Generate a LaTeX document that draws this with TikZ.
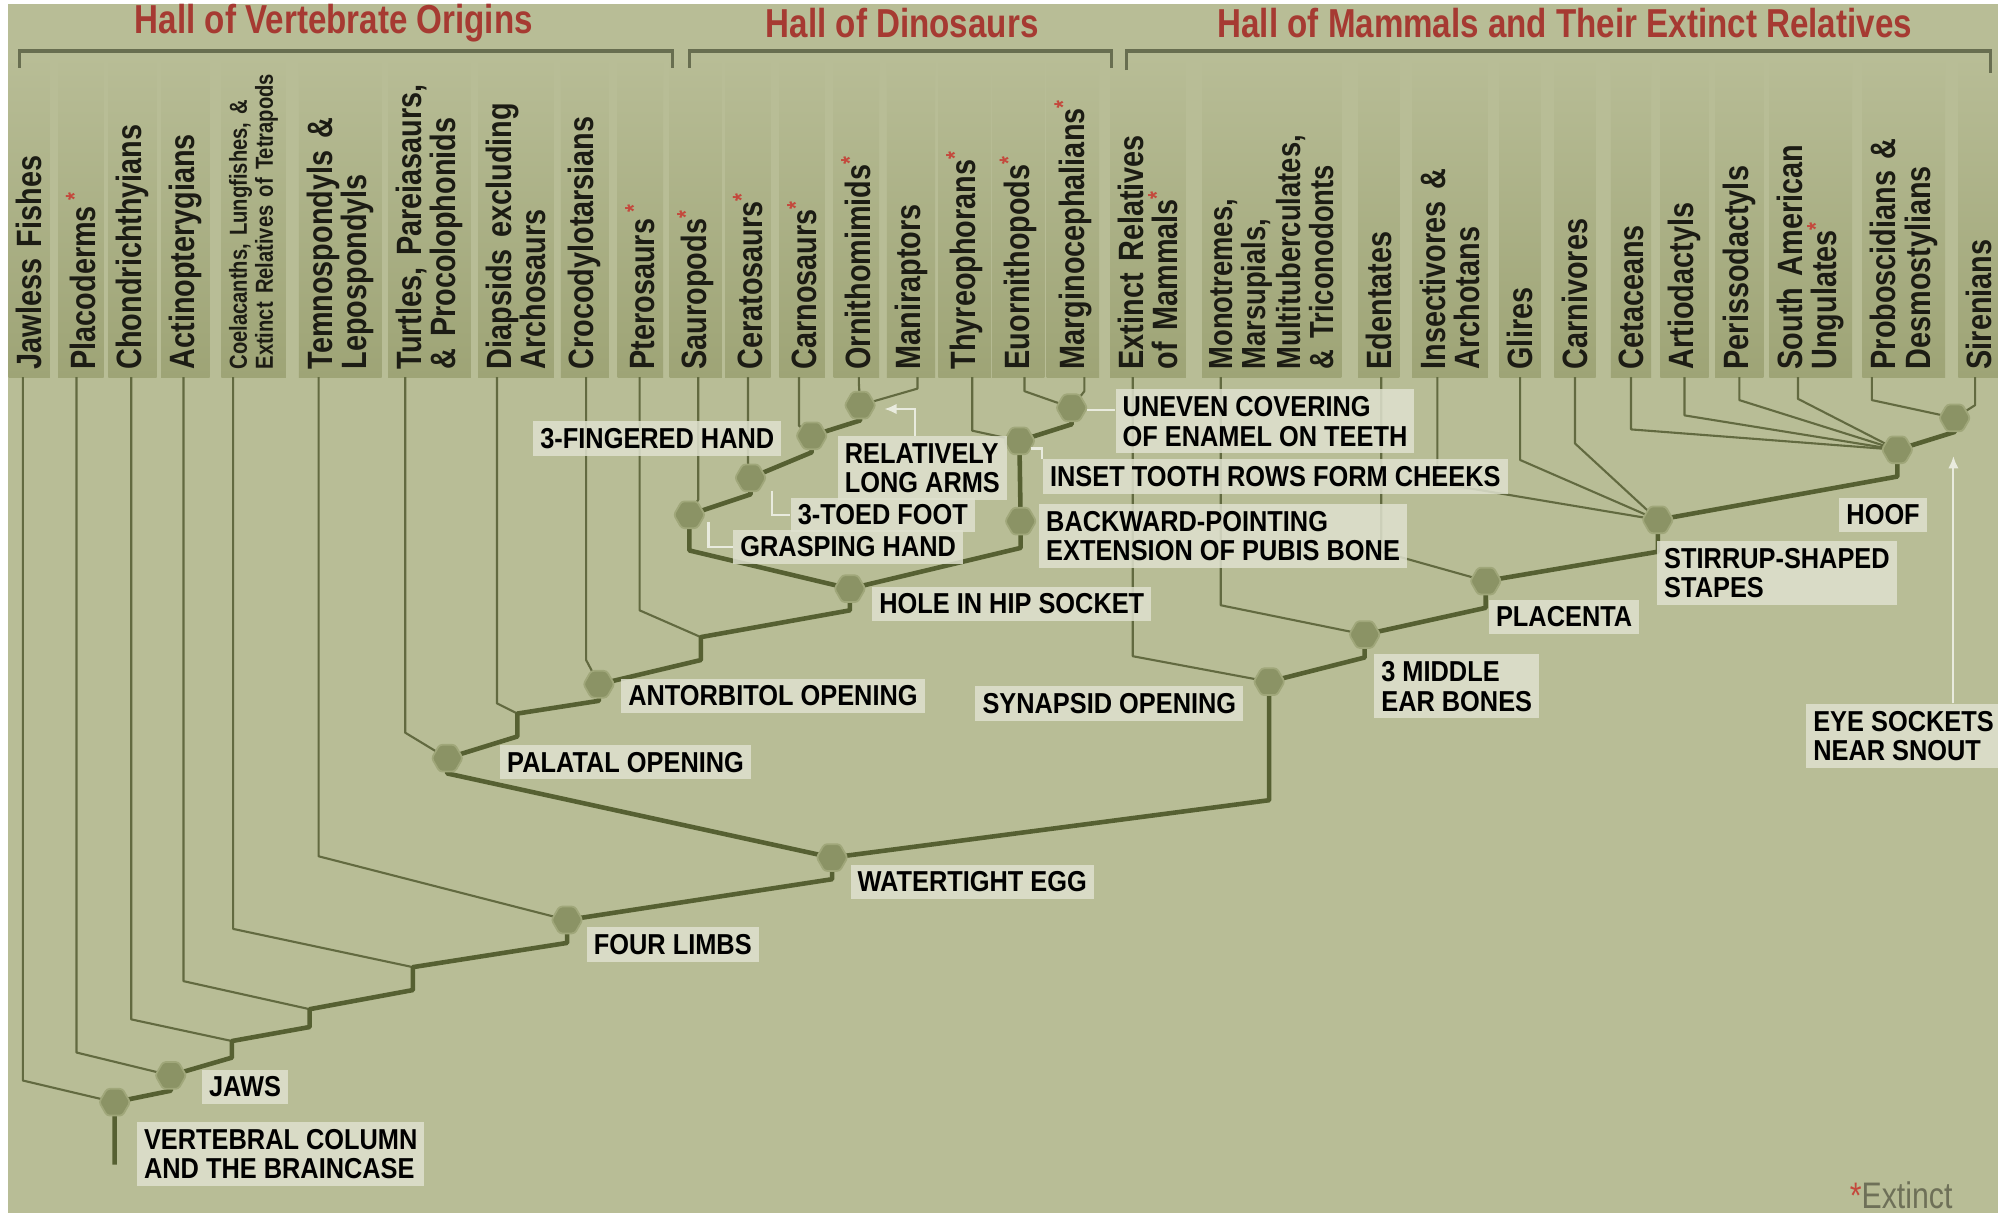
\documentclass[tikz,border=0pt]{standalone}
\usepackage{fontspec}
\newfontfamily\hdfont[FakeStretch=0.82]{Liberation Sans}
\newfontfamily\lbfont[FakeStretch=0.88]{Liberation Sans}
\usetikzlibrary{shapes.geometric,arrows.meta}
\pgfdeclarelayer{back}
\pgfdeclarelayer{strips}
\pgfsetlayers{back,strips,main}
\definecolor{bgc}{RGB}{184,189,150}
\definecolor{stripc}{RGB}{158,164,118}
\definecolor{hdtext}{RGB}{28,28,20}
\definecolor{trunkc}{RGB}{86,96,50}
\definecolor{twigc}{RGB}{98,106,64}
\definecolor{brkc}{RGB}{104,110,80}
\definecolor{lblc}{RGB}{223,225,207}
\definecolor{hallred}{RGB}{166,58,50}
\definecolor{extred}{RGB}{196,72,60}
\definecolor{hexfill}{RGB}{139,147,101}
\definecolor{hexline}{RGB}{160,167,122}
\definecolor{leadc}{RGB}{233,235,222}
\definecolor{notec}{RGB}{110,112,88}
\newcommand{\xtn}{\textsuperscript{\textcolor{extred}{*}}}

\begin{document}
\begin{tikzpicture}[x=0.01274cm, y=-0.01274cm,
    hdr/.style={rotate=90, anchor=west, align=left, text width=87pt,
        inner xsep=2pt, inner ysep=2pt, text=hdtext,
        font=\hdfont\bfseries\fontsize{10}{9.8}\selectfont},
    hn/.style={},
    hs/.style={font=\hdfont\bfseries\fontsize{7}{7.4}\selectfont},
    hm/.style={font=\hdfont\bfseries\fontsize{9.5}{8.3}\selectfont},
    hall/.style={text=hallred, font=\hdfont\bfseries\fontsize{11.5}{12}\selectfont},
    brk/.style={draw=brkc, line width=0.9pt},
    twig/.style={draw=twigc, line width=0.6pt, line join=round},
    trunk/.style={draw=trunkc, line width=1.3pt, line join=round},
    hex/.style={regular polygon, regular polygon sides=6, minimum size=8.8pt,
        inner sep=0pt, fill=hexfill, draw=hexline, line width=0.5pt,
        rounded corners=0.8pt},
    lbl/.style={anchor=north west, align=left, fill=lblc, fill opacity=.85,
        text opacity=1, inner xsep=2pt, inner ysep=2pt, text=black,
        font=\lbfont\bfseries\fontsize{8.2}{8.4}\selectfont},
    leader/.style={draw=leadc, line width=0.6pt}]

% frame
\begin{pgfonlayer}{back}
\fill[white] (0,0) rectangle (1568,956);
\fill[bgc] (6,3) rectangle (1568,952);
\end{pgfonlayer}
\useasboundingbox (0,0) rectangle (1568,956);

% column heads
\foreach \cx/\fs/\txt [count=\i] in {23/hn/{Jawless Fishes}, 63.5/hn/{Placoderms\,\xtn},
    104/hn/{Chondrichthyians}, 145.5/hn/{Actinopterygians},
    199/hs/{Coelacanths, Lungfishes, \&\\Extinct Relatives of Tetrapods},
    267/hn/{Temnospondyls \&\\Lepospondyls}, 337/hn/{Turtles, Pareiasaurs,\\\& Procolophonids},
    405/hn/{Diapsids excluding\\Archosaurs}, 459/hn/{Crocodylotarsians},
    502.5/hn/{Pterosaurs\,\xtn}, 546/hn/{Sauropods\xtn}, 587/hn/{Ceratosaurs\xtn},
    629.5/hn/{Carnosaurs\xtn}, 672/hn/{Ornithomimids\xtn}, 715/hn/{Maniraptors},
    757/hn/{Thyreophorans\xtn}, 799/hn/{Euornithopods\xtn}, 842/hn/{Marginocephalians\xtn},
    901/hn/{Extinct Relatives\\of Mammals\xtn},
    998/hm/{Monotremes,\\Marsupials,\\Multituberculates,\\\& Triconodonts},
    1082/hn/{Edentates}, 1138/hn/{Insectivores \&\\Archotans}, 1193/hn/{Glires},
    1236/hn/{Carnivores}, 1280/hn/{Cetaceans}, 1322/hn/{Artiodactyls}, 1365/hn/{Perissodactyls},
    1421/hn/{South American\\Ungulates\xtn}, 1494/hn/{Proboscidians \&\\Desmostylians},
    1553/hn/{Sirenians}}
{
  \node[hdr,\fs] (head\i) at (\cx,296) {\txt};
  \begin{pgfonlayer}{strips}
  \shade[top color=bgc, bottom color=stripc] (head\i.south west) rectangle (head\i.north east);
  \end{pgfonlayer}
}

% halls
\node[hall] (hall-v) at (262,18) {Hall of Vertebrate Origins};
\node[hall] (hall-d) at (708,18) {Hall of Dinosaurs};
\node[hall] (hall-m) at (1228,18) {Hall of Mammals and Their Extinct Relatives};
\draw[brk] (15,53) -- (15,40) -- (528,40) -- (528,53);
\draw[brk] (541,53) -- (541,40) -- (872,40) -- (872,53);
\draw[brk] (884,55) -- (884,40) -- (1562,40) -- (1562,57);

% branch points
\coordinate (stem) at (90,914);
\coordinate (root) at (90,865);
\coordinate (jaws) at (134,844);
\coordinate (j1) at (182,817);
\coordinate (j2) at (243,792);
\coordinate (j3) at (324,759);
\coordinate (limbs) at (445,722);
\coordinate (egg) at (653,673);
\coordinate (palatal) at (351,595);
\coordinate (j4) at (406,560);
\coordinate (antorb) at (470,537);
\coordinate (j5) at (550,500);
\coordinate (hip) at (667,462);
\coordinate (grasp) at (541,404);
\coordinate (toed) at (589,375);
\coordinate (fing) at (637,342);
\coordinate (arms) at (675,318);
\coordinate (pubis) at (801,409);
\coordinate (cheeks) at (800,346);
\coordinate (enamel) at (841,320);
\coordinate (synapsid) at (996,535);
\coordinate (ear) at (1071,498);
\coordinate (placenta) at (1166,456);
\coordinate (stirrup) at (1301,408);
\coordinate (hoof) at (1489,353);
\coordinate (snout) at (1534,328);

% twigs from each column
\foreach \x/\y/\n [count=\i] in {18/848/root, 60/826/jaws, 103/800/j1, 144/770/j2,
    183/729/j3, 250/672/limbs, 318/575/palatal, 390/552/j4, 460/518/antorb,
    502/479/j5, 548/392/grasp, 587/363/toed, 627/334/fing, 674/300/arms,
    720/305/arms, 763/338/cheeks, 804/307/enamel, 851/307/enamel,
    889/515/synapsid, 958/475/ear, 1084/433/placenta, 1128/379/stirrup,
    1193/361/stirrup, 1236/348/stirrup, 1280/337/hoof, 1322/326/hoof,
    1365/314/hoof, 1411/313/hoof, 1469/314/snout, 1550/318/snout}
{
  \coordinate (tw\i) at (\x,296);
  \draw[twig] (tw\i) -- (\x,\y) -- (\n);
}

% main trunk
\draw[trunk] (stem) -- (root) -- (134,856) -- (jaws) -- (182,830) -- (j1)
  -- (243,806) -- (j2) -- (324,777) -- (j3) -- (445,740) -- (limbs)
  -- (653,690) -- (egg) -- (996,628) -- (synapsid) -- (1071,516) -- (ear)
  -- (1166,477) -- (placenta) -- (1301,433) -- (stirrup) -- (1489,374)
  -- (hoof) -- (1534,339) -- (snout);
\draw[trunk] (egg) -- (351,607) -- (palatal) -- (406,578) -- (j4) -- (470,550)
  -- (antorb) -- (550,518) -- (j5) -- (667,479) -- (hip) -- (541,432) -- (grasp)
  -- (589,388) -- (toed) -- (637,355) -- (fing) -- (675,330) -- (arms);
\draw[trunk] (hip) -- (801,430) -- (pubis) -- (cheeks) -- (841,333) -- (enamel);

% markers
\foreach \n in {root,jaws,limbs,egg,palatal,antorb,hip,grasp,toed,fing,arms,
    pubis,cheeks,enamel,synapsid,ear,placenta,stirrup,hoof,snout}
  \node[hex] (hx-\n) at (\n) {};

% labels
\node[lbl] (l-vert) at (107,880) {VERTEBRAL COLUMN\\AND THE BRAINCASE};
\node[lbl] (l-jaws) at (158,839) {JAWS};
\node[lbl] (l-limbs) at (460,727) {FOUR LIMBS};
\node[lbl] (l-egg) at (667,678) {WATERTIGHT EGG};
\node[lbl] (l-pal) at (392,584) {PALATAL OPENING};
\node[lbl] (l-ant) at (487,532) {ANTORBITOL OPENING};
\node[lbl] (l-hip) at (684,460) {HOLE IN HIP SOCKET};
\node[lbl] (l-grasp) at (575,415) {GRASPING HAND};
\node[lbl] (l-toe) at (620,390) {3-TOED FOOT};
\node[lbl] (l-fing) at (418,330) {3-FINGERED HAND};
\node[lbl] (l-arms) at (657,342) {RELATIVELY\\LONG ARMS};
\node[lbl] (l-enam) at (875,305) {UNEVEN COVERING\\OF ENAMEL ON TEETH};
\node[lbl] (l-cheek) at (818,360) {INSET TOOTH ROWS FORM CHEEKS};
\node[lbl] (l-pubis) at (815,395) {BACKWARD-POINTING\\EXTENSION OF PUBIS BONE};
\node[lbl] (l-syn) at (765,538) {SYNAPSID OPENING};
\node[lbl] (l-ear) at (1078,513) {3 MIDDLE\\EAR BONES};
\node[lbl] (l-plac) at (1168,470) {PLACENTA};
\node[lbl] (l-stir) at (1300,424) {STIRRUP-SHAPED\\STAPES};
\node[lbl] (l-hoof) at (1443,390) {HOOF};
\node[lbl] (l-snout) at (1417,552) {EYE SOCKETS\\NEAR SNOUT};

% leaders
\draw[leader,-{Latex[length=3.5pt,width=3pt]}] (718,0 |- l-arms.north) -- (718,321) -- (694,321);
\draw[leader] (606,385) |- (l-toe.west);
\draw[leader] (556,410) |- (l-grasp.west);
\draw[leader] (809,352) -| (818,0 |- l-cheek.north);
\draw[leader] (853,322) -- (l-enam.west |- 0,322);
\draw[leader,-{Latex[length=3.5pt,width=3pt]}] (1533,0 |- l-snout.north) -- (1533,358);

\node[font=\hdfont\fontsize{10.5}{11}\selectfont, text=notec] (note) at (1492,938)
  {\textcolor{extred}{*}Extinct};
\end{tikzpicture}
\end{document}
